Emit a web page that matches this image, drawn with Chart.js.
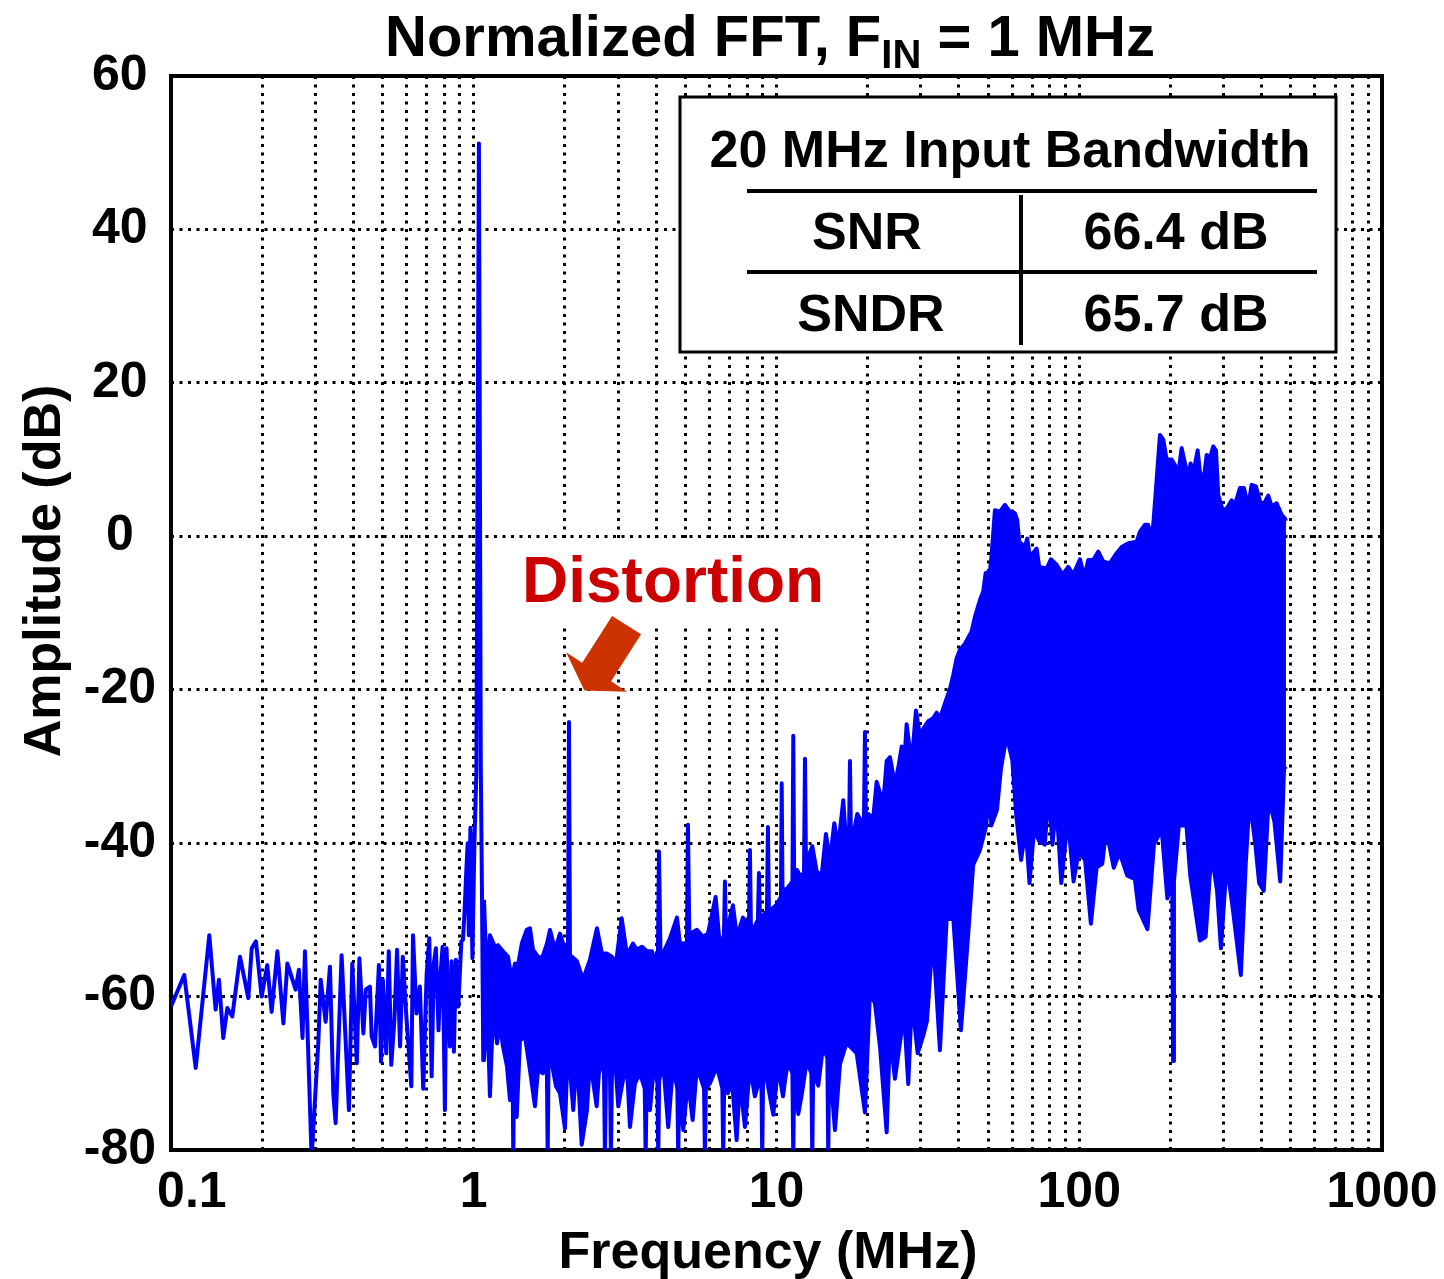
<!DOCTYPE html>
<html>
<head>
<meta charset="utf-8">
<title>Normalized FFT</title>
<script src="https://cdn.jsdelivr.net/npm/chart.js@4.4.1/dist/chart.umd.min.js"></script>
<style>
  html, body { margin: 0; padding: 0; background: #fff; }
  #wrap { width: 1444px; height: 1279px; position: relative; }
</style>
</head>
<body>
<div id="wrap"><canvas id="fft"></canvas></div>
<script>
const FONT = '"Liberation Sans", Arial, Helvetica, sans-serif';
const BLUE = "#0000ff";

// single trace: noise floor below the tone, and the tone itself (MHz / dB)
const sparseFreq = [
  0.1, 0.1106, 0.1207, 0.1338, 0.1404, 0.144, 0.1488, 0.1535, 0.1594, 0.169,
  0.18, 0.1848, 0.1908, 0.1992, 0.208, 0.215, 0.2246, 0.2351, 0.2423, 0.258,
  0.2645, 0.2719, 0.277, 0.2914, 0.3067, 0.3123, 0.3242, 0.335, 0.3436, 0.3498,
  0.366, 0.387, 0.397, 0.411, 0.419, 0.432, 0.44, 0.454, 0.46, 0.472,
  0.486, 0.494, 0.501, 0.514, 0.524, 0.534, 0.547, 0.558, 0.571, 0.583,
  0.598, 0.622, 0.63, 0.647, 0.664, 0.681, 0.699, 0.713, 0.726, 0.738,
  0.75, 0.765, 0.777, 0.789, 0.803, 0.813, 0.834, 0.845, 0.86, 0.873,
  0.889, 0.91, 0.921, 0.932, 0.944, 0.955, 0.963, 0.975, 0.99, 1.005,
  1.02, 1.04, 1.055, 1.065, 1.075, 1.081,
];
const sparseDb = [
  -61.3, -57.2, -69.3, -52.0, -61.7, -57.8, -65.4, -61.5, -62.6, -54.8,
  -60.2, -53.7, -52.8, -60.0, -55.9, -62.0, -54.1, -63.5, -55.7, -59.1,
  -56.5, -65.4, -54.1, -81, -65.9, -57.8, -63.3, -56.1, -72.6, -76.5,
  -54.6, -74.8, -55.7, -68.7, -55.0, -64.8, -59.1, -58.7, -65.2, -66.5,
  -55.9, -68.5, -57.8, -67.4, -54.1, -68.9, -63.0, -53.9, -66.5, -54.8,
  -62.2, -71.7, -52.0, -62.2, -58.7, -72.0, -57.0, -52.4, -70.4, -55.7,
  -53.7, -64.4, -57.0, -53.5, -74.8, -53.7, -66.5, -55.4, -67.2, -55.2,
  -61.3, -52.8, -52.6, -49.1, -44, -40, -52, -38, -55, -40,
  -31, 51.2, -30, -47.4, -68.3, -47.4,
];

// dense band above the tone: top edge of the filled spectrum
const upperFreq = [
  1.081, 1.106, 1.131, 1.175, 1.2025, 1.249, 1.2974, 1.3343, 1.3683, 1.3998,
  1.4432, 1.4956, 1.5336, 1.569, 1.6297, 1.6803, 1.7453, 1.7855, 1.8546, 1.9267,
  2.0013, 2.0474, 2.0631, 2.0788, 2.1106, 2.1923, 2.295, 2.4203, 2.5527, 2.6516,
  2.7543, 2.8609, 2.9492, 3.0802, 3.2067, 3.3562, 3.4598, 3.5943, 3.7334, 3.8779,
  3.9673, 4.0593, 4.0903, 4.1372, 4.2166, 4.4468, 4.6897, 4.7984, 5.0605, 5.0991,
  5.1574, 5.1771, 5.4606, 5.7155, 5.9367, 6.2951, 6.5041, 6.7047, 6.756, 6.8075,
  7.1792, 7.4008, 7.7472, 8.1084, 8.17, 8.2324, 8.3584, 8.682, 8.7494, 8.8161,
  9.1575, 9.2977, 9.3686, 9.4401, 10.015, 10.347, 10.403, 10.466, 10.805, 11.292,
  11.361, 11.439, 11.686, 11.956, 12.325, 12.419, 12.514, 12.734, 13.128, 13.574,
  14.1, 14.568, 15.018, 15.517, 15.997, 16.616, 17.051, 17.352, 17.484, 17.617,
  17.928, 18.484, 19.113, 19.449, 19.598, 19.747, 20.095, 20.873, 21.42, 21.966,
  22.524, 23.113, 23.7, 24.617, 25.245, 25.907, 26.363, 26.909, 27.95, 28.883,
  29.774, 30.53, 31.712, 32.945, 33.806, 34.665, 36.008, 37.401, 38.35, 39.358,
  40.358, 41.921, 44.107, 45.229, 46.986, 48.179, 49.068, 50.695, 51.351, 52.657,
  54.703, 56.822, 59.021, 61.306, 62.396, 63.35, 66.155, 67.32, 68.715, 72.31,
  73.754, 78.019, 80.611, 84.189, 88.114, 91.947, 95.571, 100.56, 103.9, 107.11,
  111.25, 115.57, 120.04, 126.31, 132.92, 138.07, 145.17, 154.76, 158.69, 164.84,
  169.02, 172.12, 175.56, 180.18, 184.76, 189.45, 194.4, 201.93, 207.06, 210.74,
  217.9, 225.13, 229.1, 233.3, 237.97, 246.1, 250.43, 256.79, 263.5, 270.2,
  277.05, 282.84, 287.82, 297.61, 306.79, 318.66, 326.76, 339.46, 349.93, 361.56,
  371.0, 383.38, 397.32, 405.25, 420.94, 431.92, 448.73, 466.11, 477.94, 481.6,
];
const upperDb = [
  -47.4, -58, -52, -53.5, -53.3, -54.1, -54.8, -57.8, -55.7, -55.9,
  -53, -51.3, -51.1, -53.9, -54.8, -55.0, -53.1, -51.3, -53.9, -51.8,
  -53.9, -55, -24.2, -55, -54.8, -55.4, -57.8, -55.2, -51.1, -54.4,
  -54.4, -54.8, -55.7, -49.8, -54.6, -53.1, -53.9, -53.5, -54.1, -54.1,
  -55.4, -54, -41.1, -54, -54.4, -52.4, -49.7, -53.1, -53, -37.6,
  -53, -51.8, -51.3, -52.2, -51.8, -47.0, -53.5, -52, -45, -52,
  -48.1, -52.2, -49.7, -51, -40.9, -51, -51.3, -50, -43.9, -50,
  -49.1, -49, -37.9, -49, -48, -47, -32.2, -46, -46, -45,
  -26.0, -45, -43.5, -44.2, -44, -29.0, -43, -41.8, -40.4, -43.7,
  -44.2, -38.8, -42.3, -37.4, -40.4, -34.4, -40.9, -40, -29.3, -39.5,
  -39.0, -36.2, -37.2, -37, -25.5, -37, -36.2, -36.7, -32.0, -33.4,
  -34.8, -29.3, -28.8, -32.3, -30.2, -27.4, -30.2, -24.5, -29.7, -22.7,
  -26.0, -25.1, -24.1, -23.7, -23.0, -23.7, -21.8, -19.9, -18.1, -15.9,
  -14.8, -14.0, -12.4, -10.5, -8.3, -7.2, -4.8, -4.6, -2.4, 3.4,
  3.2, 4.1, 3.2, 3.0, 2.1, -0.7, -1.4, -0.3, -2.7, -1.6,
  -4.0, -4.2, -3.0, -3.7, -5.0, -4.0, -5.0, -3.0, -5.3, -3.1,
  -3.1, -2.0, -3.3, -3.5, -2.2, -1.4, -0.9, -0.7, 0.6, 1.5,
  1.5, -0.5, 1.5, 7.4, 13.2, 12.6, 10.0, 10.0, 9.3, 7.1,
  11.5, 8.9, 7.8, 9.5, 8.2, 11.2, 8.4, 6.9, 10.6, 10.2,
  11.7, 11.2, 5.4, 3.4, 3.6, 4.7, 4.1, 6.3, 6.3, 3.9,
  6.7, 6.5, 4.3, 4.1, 5.3, 3.9, 4.3, 2.8, 2.3, 2.0,
];

// dense band: bottom edge of the filled spectrum
const lowerFreq = [
  1.081, 1.106, 1.131, 1.1603, 1.1934, 1.2209, 1.249, 1.2876, 1.3173, 1.3425,
  1.3507, 1.36, 1.3862, 1.4214, 1.4765, 1.5336, 1.5929, 1.6297, 1.6931, 1.7426,
  1.7547, 1.7666, 1.7855, 1.8691, 1.9267, 2.0013, 2.0474, 2.1315, 2.1923, 2.2724,
  2.3657, 2.4203, 2.5469, 2.6116, 2.6922, 2.7127, 2.7334, 2.7753, 2.8177, 2.8392,
  2.8609, 2.9268, 3.0015, 3.1108, 3.2067, 3.2806, 3.4076, 3.54, 3.6716, 3.6968,
  3.722, 3.8194, 3.9373, 4.0407, 4.0685, 4.0965, 4.2166, 4.3898, 4.5493, 4.7043,
  4.7367, 4.7693, 4.9203, 5.0991, 5.2845, 5.4606, 5.7637, 5.803, 5.843, 6.0276,
  6.3574, 6.6238, 6.6693, 6.7148, 6.9117, 7.1249, 7.3848, 7.5724, 7.8657, 8.17,
  8.4864, 8.9104, 8.9713, 9.033, 9.2977, 9.7596, 10.114, 10.506, 10.667, 10.913,
  11.284, 11.361, 11.439, 11.802, 12.139, 12.58, 13.038, 13.128, 13.217, 13.74,
  14.24, 14.724, 14.825, 14.927, 15.599, 16.205, 17.051, 17.484, 18.4, 19.598,
  20.356, 21.144, 21.966, 23.113, 23.7, 24.617, 25.574, 26.363, 27.239, 28.015,
  29.259, 30.53, 31.401, 32.869, 34.665, 36.475, 38.35, 40.666, 42.887, 44.648,
  46.986, 49.326, 50.463, 51.196, 53.469, 55.12, 57.559, 60.108, 61.875, 64.274,
  66.56, 68.509, 70.948, 73.699, 76.966, 79.28, 81.593, 84.0, 87.251, 91.671,
  95.79, 99.495, 104.53, 109.25, 114.08, 119.13, 122.72, 130.01, 135.89, 143.97,
  152.66, 157.13, 168.0, 176.5, 187.17, 195.44, 202.87, 204.11, 205.49, 213.31,
  225.98, 232.61, 250.23, 261.52, 273.09, 285.21, 293.79, 306.79, 320.61, 341.8,
  354.77, 365.43, 381.63, 392.81, 406.79, 422.56, 441.25, 461.18, 474.71, 481.6,
];
const lowerDb = [
  -68.3, -60, -73.0, -61.3, -66.1, -63.5, -66.5, -69.1, -73.5, -67,
  -81, -67, -75.7, -65.7, -65.2, -69.6, -74.3, -69.6, -70.0, -68,
  -81, -68, -67.4, -71.7, -72.6, -77.2, -66.1, -74.8, -67.4, -79.3,
  -74.8, -68.3, -74.3, -68, -70, -81, -70, -68.3, -70, -81,
  -70, -67.8, -74.3, -70.9, -69.1, -77, -71.3, -70.0, -72, -81,
  -72, -74.8, -69.1, -71, -81, -71, -68.3, -77, -69.1, -72,
  -81, -72, -77.4, -70.9, -76.1, -69.1, -72, -81, -72, -71.3,
  -69.1, -72, -81, -72, -72.6, -70.9, -78.7, -70.9, -77, -69.1,
  -73, -70, -81, -70, -70.9, -75.4, -69.1, -73, -71, -68.5,
  -70, -81, -70, -75.3, -72.6, -68.4, -70, -81, -70, -71.6,
  -66.5, -68, -81, -68, -77.4, -68.8, -66.0, -66.5, -67.4, -75.1,
  -59.5, -60.9, -66.5, -77.7, -65, -70.7, -66.0, -62, -71.4, -60.4,
  -67.4, -65.1, -63.2, -52, -67.0, -50, -49.7, -64.4, -52.3, -42.8,
  -40.9, -37.7, -29.2, -37.7, -35.7, -30.3, -26, -29.2, -36.2, -42.2,
  -38, -45.2, -38.2, -39.7, -40.2, -33.3, -40.2, -34.7, -45.2, -36.7,
  -45, -41.2, -42.2, -50.5, -43.2, -42.7, -38.2, -43.2, -41.2, -44.2,
  -44.7, -48.7, -51.2, -40.2, -38.2, -47.2, -45, -68.4, -45, -37.7,
  -37.7, -44.2, -52.7, -52.2, -41.2, -46.2, -53.7, -42.7, -48.2, -57.2,
  -42.7, -34.2, -40.2, -45.2, -46.2, -34.2, -37.2, -45, -30.3, -30,
];

const yTicks = [-80, -60, -40, -20, 0, 20, 40, 60];
const gridFreqs = [
  0.1, 0.2, 0.3, 0.4, 0.5, 0.6, 0.7, 0.8, 0.9,
  1, 2, 3, 4, 5, 6, 7, 8, 9,
  10, 20, 30, 40, 50, 60, 70, 80, 90,
  100, 200, 300, 400, 500, 600, 700, 800, 900, 1000,
];
const labelFreqs = [0.1, 1, 10, 100, 1000];

const toPoints = (xs, ys) => xs.map((x, i) => ({ x: x, y: ys[i] }));

// frame, titles, the "Distortion" note and the SNR/SNDR table
const decor = {
  id: "decor",
  beforeDatasetsDraw(chart) {
    const { ctx, chartArea: a } = chart;
    ctx.save();
    ctx.strokeStyle = "#000";
    ctx.lineWidth = 4;
    ctx.strokeRect(a.left, a.top, a.right - a.left, a.bottom - a.top);
    ctx.restore();
  },
  afterDatasetsDraw(chart) {
    const { ctx, scales } = chart;
    ctx.save();

    // Distortion label
    ctx.fillStyle = "#fff";
    ctx.fillRect(512, 541, 320, 86);
    ctx.fillStyle = "#cc0000";
    ctx.font = `bold 64px ${FONT}`;
    ctx.textAlign = "left";
    ctx.textBaseline = "alphabetic";
    ctx.fillText("Distortion", 522, 602);

    // arrow pointing at the 2nd harmonic
    const tx = scales.x.getPixelForValue(2.32);
    const ty = scales.y.getPixelForValue(-20.1);
    const arrow = [
      [27.7, -74.5], [-2.2, -27.7], [-18.3, -38.2], [0, 0],
      [42.7, 1.2], [26.7, -9.2], [56.7, -56.2],
    ];
    ctx.fillStyle = "#cc3300";
    ctx.beginPath();
    arrow.forEach(([dx, dy], i) => {
      if (i === 0) ctx.moveTo(tx + dx, ty + dy);
      else ctx.lineTo(tx + dx, ty + dy);
    });
    ctx.closePath();
    ctx.fill();

    // table
    ctx.fillStyle = "#fff";
    ctx.fillRect(680, 97, 656, 255);
    ctx.strokeStyle = "#000";
    ctx.lineWidth = 3;
    ctx.strokeRect(680, 97, 656, 255);
    ctx.lineWidth = 4;
    ctx.beginPath();
    ctx.moveTo(747, 191); ctx.lineTo(1317, 191);
    ctx.moveTo(747, 272); ctx.lineTo(1317, 272);
    ctx.moveTo(1021, 195); ctx.lineTo(1021, 345);
    ctx.stroke();

    ctx.fillStyle = "#000";
    ctx.font = `bold 52px ${FONT}`;
    ctx.textAlign = "center";
    ctx.fillText("20 MHz Input Bandwidth", 1010, 167);
    ctx.fillText("SNR", 867, 249);
    ctx.fillText("66.4 dB", 1176, 249);
    ctx.fillText("SNDR", 871, 331);
    ctx.fillText("65.7 dB", 1176, 331);
    ctx.restore();
  },
  afterDraw(chart) {
    const { ctx } = chart;
    ctx.save();
    ctx.fillStyle = "#000";
    ctx.textBaseline = "alphabetic";

    // title with subscript
    const big = `bold 58px ${FONT}`;
    const small = `bold 40px ${FONT}`;
    const t1 = "Normalized FFT, F";
    const sub = "IN";
    const t2 = " = 1 MHz";
    ctx.font = big;
    const w1 = ctx.measureText(t1).width;
    const w2 = ctx.measureText(t2).width;
    ctx.font = small;
    const ws = ctx.measureText(sub).width;
    let x = 770 - (w1 + ws + w2) / 2;
    ctx.textAlign = "left";
    ctx.font = big;
    ctx.fillText(t1, x, 56);
    x += w1;
    ctx.font = small;
    ctx.fillText(sub, x, 68);
    x += ws;
    ctx.font = big;
    ctx.fillText(t2, x, 56);

    // axis titles
    ctx.font = `bold 52px ${FONT}`;
    ctx.textAlign = "center";
    ctx.fillText("Frequency (MHz)", 768, 1268);
    ctx.translate(60, 571);
    ctx.rotate(-Math.PI / 2);
    ctx.fillText("Amplitude (dB)", 0, 0);
    ctx.restore();
  },
};

const lineStyle = {
  borderColor: BLUE,
  backgroundColor: BLUE,
  borderWidth: 4,
  pointRadius: 0,
  tension: 0,
  borderJoinStyle: "round",
};

const tickFont = { family: FONT, size: 50, weight: "bold" };
const gridStyle = { color: "#000", lineWidth: 3, drawTicks: false };
const gridBorder = { display: false, dash: [3, 5.5] };

// the first label sits a little right of the axis corner, as in the original
const xLabel = (v) => {
  if (!labelFreqs.includes(v)) return "";
  return v === labelFreqs[0] ? "   " + v : String(v);
};

new Chart(document.getElementById("fft"), {
  type: "line",
  data: {
    datasets: [
      { ...lineStyle, label: "upper", data: toPoints(upperFreq, upperDb), fill: "+1" },
      { ...lineStyle, label: "lower", data: toPoints(lowerFreq, lowerDb), fill: false },
      { ...lineStyle, label: "trace", data: toPoints(sparseFreq, sparseDb), fill: false },
    ],
  },
  options: {
    responsive: true,
    maintainAspectRatio: false,
    animation: false,
    layout: { padding: { top: 76, right: 62, left: 0, bottom: 0 } },
    plugins: {
      legend: { display: false },
      tooltip: { enabled: false },
      title: { display: false },
    },
    scales: {
      x: {
        type: "logarithmic",
        min: 0.1,
        max: 1000,
        afterBuildTicks: (scale) => {
          scale.ticks = gridFreqs.map((v) => ({ value: v }));
        },
        afterFit: (scale) => {
          scale.height = 129;
          scale.paddingLeft = 0;
          scale.paddingRight = 0;
        },
        ticks: {
          autoSkip: false,
          maxRotation: 0,
          minRotation: 0,
          padding: 13,
          color: "#000",
          font: tickFont,
          callback: xLabel,
        },
        grid: gridStyle,
        border: gridBorder,
      },
      y: {
        min: -80,
        max: 60,
        afterBuildTicks: (scale) => {
          scale.ticks = yTicks.map((v) => ({ value: v }));
        },
        afterFit: (scale) => {
          scale.width = 171;
          scale.paddingTop = 0;
          scale.paddingBottom = 0;
        },
        ticks: {
          crossAlign: "center",
          padding: 15,
          color: "#000",
          font: tickFont,
          callback: (v) => String(v),
        },
        grid: gridStyle,
        border: gridBorder,
      },
    },
  },
  plugins: [decor],
});
</script>
</body>
</html>
